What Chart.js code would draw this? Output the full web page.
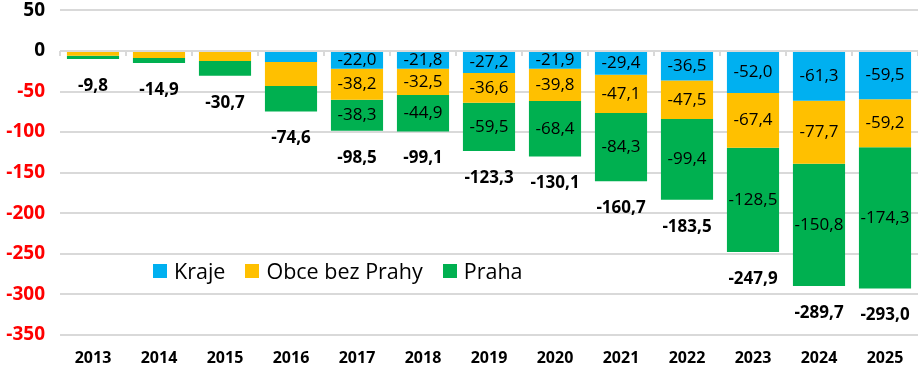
<!DOCTYPE html>
<html>
<head>
<meta charset="utf-8">
<script src="https://cdn.jsdelivr.net/npm/chart.js@4.4.1/dist/chart.umd.min.js"></script>
<style>
  html, body { margin: 0; padding: 0; background: #fff; }
  #wrap { position: relative; width: 918px; height: 367px; overflow: hidden; }
  #chart { position: absolute; left: 0; top: -16px; }
  #legend { position: absolute; left: 153px; top: 256px; display: flex; font-family: "Open Sans", sans-serif; font-size: 21.5px; color: #000; }
  .lg-item { display: flex; align-items: center; margin-right: 20px; }
  .lg-box { width: 14px; height: 14px; margin-right: 7px; }
</style>
</head>
<body>
<div id="wrap">
  <canvas id="chart" width="918" height="390"></canvas>
  <div id="legend"></div>
</div>
<script>
// ── data ──
const years  = ['2013','2014','2015','2016','2017','2018','2019','2020','2021','2022','2023','2024','2025'];
const kraje  = [0, 0, 0, -13.6, -22.0, -21.8, -27.2, -21.9, -29.4, -36.5, -52.0, -61.3, -59.5];
const obce   = [-5.8, -8.6, -12.3, -29.6, -38.2, -32.5, -36.6, -39.8, -47.1, -47.5, -67.4, -77.7, -59.2];
const praha  = [-4.0, -6.3, -18.4, -31.4, -38.3, -44.9, -59.5, -68.4, -84.3, -99.4, -128.5, -150.8, -174.3];
const totals = [-9.8, -14.9, -30.7, -74.6, -98.5, -99.1, -123.3, -130.1, -160.7, -183.5, -247.9, -289.7, -293.0];
const seriesNames  = ['Kraje', 'Obce bez Prahy', 'Praha'];
const seriesColors = ['#00B0F0', '#FFC000', '#00B050'];
const firstLabelled = 4; // segment values shown from 2017 on

const FONT = '"Open Sans", sans-serif';
const fmt = v => v.toFixed(1).replace('.', ',');

// segment values + totals + tick marks on the zero line
const labelsPlugin = {
  id: 'labels',
  afterDatasetsDraw(chart) {
    const ctx = chart.ctx;
    const y = chart.scales.y, x = chart.scales.x;
    ctx.save();
    ctx.textAlign = 'center';
    ctx.textBaseline = 'middle';
    ctx.fillStyle = '#000';
    ctx.font = '17px ' + FONT;
    chart.data.datasets.forEach((ds, di) => {
      chart.getDatasetMeta(di).data.forEach((bar, i) => {
        if (i < firstLabelled || !ds.data[i]) return;
        ctx.fillText(fmt(ds.data[i]), bar.x, (bar.y + bar.base) / 2);
      });
    });
    ctx.font = 'bold 17px ' + FONT;
    totals.forEach((t, i) => {
      ctx.fillText(fmt(t), x.getPixelForValue(i), y.getPixelForValue(t) + 27);
    });
    // small tick marks under the zero line
    const y0 = y.getPixelForValue(0);
    ctx.strokeStyle = '#d9d9d9';
    ctx.lineWidth = 2;
    const step = (chart.chartArea.right - chart.chartArea.left) / years.length;
    for (let i = 0; i <= years.length; i++) {
      const px = chart.chartArea.left + i * step;
      ctx.beginPath();
      ctx.moveTo(px, y0);
      ctx.lineTo(px, y0 + 5);
      ctx.stroke();
    }
    ctx.restore();
  }
};

const sets = [kraje, obce, praha].map((d, i) => ({
  label: seriesNames[i],
  data: d,
  backgroundColor: seriesColors[i],
  borderWidth: 0,
  barPercentage: 0.79,
  categoryPercentage: 1.0,
}));

new Chart(document.getElementById('chart'), {
  type: 'bar',
  data: { labels: years, datasets: sets },
  plugins: [labelsPlugin],
  options: {
    responsive: false,
    animation: false,
    plugins: { legend: { display: false }, tooltip: { enabled: false } },
    scales: {
      x: {
        stacked: true,
        grid: { display: false },
        border: { display: false },
        ticks: { font: { family: FONT, size: 16, weight: 'bold' }, color: '#000', padding: 6 },
      },
      y: {
        stacked: true,
        min: -350, max: 50,
        afterFit: s => { s.width = 60; },
        grid: { color: '#d9d9d9', lineWidth: 2, drawTicks: false },
        border: { display: false },
        ticks: {
          stepSize: 50,
          padding: 15,
          font: { family: FONT, size: 19, weight: 'bold' },
          color: c => (c.tick && c.tick.value < 0) ? '#FF0000' : '#000',
        },
      },
    },
  },
});

// legend in the plot, as real text
const lg = document.getElementById('legend');
seriesNames.forEach((n, i) => {
  const it = document.createElement('div');
  it.className = 'lg-item';
  it.innerHTML = `<span class="lg-box" style="background:${seriesColors[i]}"></span><span>${n}</span>`;
  lg.appendChild(it);
});
</script>
</body>
</html>
